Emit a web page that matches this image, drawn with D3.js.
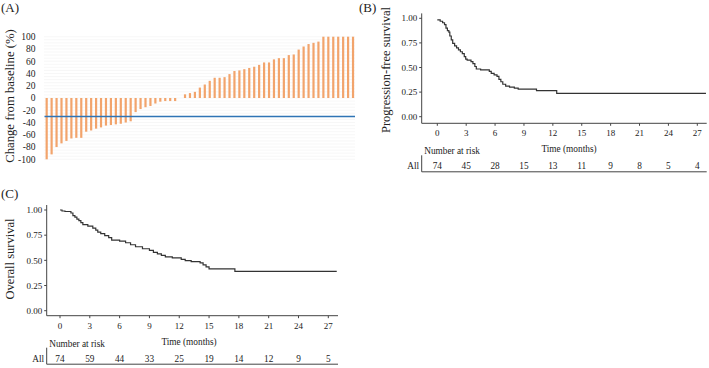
<!DOCTYPE html>
<html><head><meta charset="utf-8">
<script src="https://cdn.jsdelivr.net/npm/d3@7"></script>
<style>
body{margin:0;background:#fff;}
svg text{font-family:"Liberation Serif","Times New Roman",serif;fill:#222;}
</style></head>
<body><svg id="c" width="709" height="368"></svg>
<script>
// ---- Panel A: waterfall (change from baseline, %) ----
const waterfallValues = [
  -100,-92,-80,-74,-70,-66,-65,-65,-55,-53,-50,-48,-45,-44,-43,-42,-40,-38,
  -23,-18,-15,-13,-9,-6,-5,-5,-5,
  0,
  6,8,10,17,22,28,33,33,34,39,44,45,47,49,51,54,58,58,63,65,65,70,71,79,84,88,90,92,
  100,100,100,100,100,100,100
];
const waterfallTicks = [100,80,60,40,20,0,-20,-40,-60,-80,-100];
const thresholdValue = -30;

// ---- Panel B: progression-free survival (KM steps) ----
const pfsTime = [0,0.3,0.55,0.75,0.9,1.05,1.2,1.3,1.45,1.6,1.8,2.0,2.2,2.4,2.6,2.8,2.95,3.1,3.5,3.7,3.9,4.05,4.5,5.4,5.6,5.9,6.2,6.4,6.6,6.8,7.1,7.5,8.0,8.4,10.3,12.4,27.9];
const pfsSurv = [0.983,0.97,0.955,0.935,0.90,0.875,0.86,0.82,0.78,0.745,0.72,0.70,0.68,0.66,0.64,0.61,0.585,0.575,0.56,0.54,0.51,0.485,0.475,0.46,0.44,0.425,0.41,0.38,0.355,0.33,0.31,0.30,0.29,0.28,0.265,0.237,0.237];
const pfsRisk = [74,45,28,15,13,11,9,8,5,4];

// ---- Panel C: overall survival (KM steps) ----
const osTime = [0,0.2,0.5,1.1,1.3,1.5,1.7,1.9,2.1,2.3,2.8,3.3,3.6,3.8,4.1,4.5,4.9,5.2,6.0,6.6,7.1,7.6,8.3,9.0,9.4,9.8,10.2,10.6,11.3,12.2,12.6,13.2,14.1,14.4,14.7,15.0,17.6,27.85];
const osSurv = [1.0,0.99,0.985,0.97,0.945,0.93,0.91,0.895,0.875,0.855,0.84,0.82,0.80,0.78,0.765,0.745,0.725,0.70,0.69,0.675,0.655,0.635,0.615,0.60,0.58,0.565,0.55,0.535,0.525,0.51,0.497,0.487,0.475,0.455,0.435,0.415,0.39,0.39];
const osRisk = [74,59,44,33,25,19,14,12,9,5];

const monthTicks = [0,3,6,9,12,15,18,21,24,27];
const survTicks = [0,0.25,0.5,0.75,1];

const svg = d3.select("#c");

// ================= Panel A =================
(function(){
  const g = svg.append("g");
  const x = d3.scaleBand().domain(d3.range(waterfallValues.length)).range([44.2,355.5]);
  const y = d3.scaleLinear().domain([-100,100]).range([159.3,36.7]);
  // faint gridlines
  g.selectAll("line.grid").data(d3.range(-100,101,5)).join("line")
    .attr("x1",44).attr("x2",355).attr("y1",d=>y(d)).attr("y2",d=>y(d))
    .attr("stroke","#f3f3f3").attr("stroke-width",0.7);
  // bars
  g.selectAll("rect.bar").data(waterfallValues).join("rect")
    .attr("x",(d,i)=>x(i)+x.bandwidth()/2-1.1).attr("width",2.2)
    .attr("y",d=>y(Math.max(0,d))).attr("height",d=>Math.abs(y(d)-y(0)))
    .attr("fill","#f2a46c");
  // threshold line
  g.append("line").attr("x1",44.5).attr("x2",355).attr("y1",y(thresholdValue)).attr("y2",y(thresholdValue))
    .attr("stroke","#2f74b5").attr("stroke-width",1.5);
  // y ticks
  g.selectAll("text.yt").data(waterfallTicks).join("text")
    .attr("x",35.5).attr("y",d=>y(d)).attr("dy","0.35em").attr("text-anchor","end")
    .attr("font-size","9.5px").text(d=>d);
  g.append("text").attr("transform","translate(14,96) rotate(-90)").attr("text-anchor","middle")
    .attr("font-size","12.7px").text("Change from baseline (%)");
  svg.append("text").attr("x",1).attr("y",11.5).attr("font-size","13px").text("(A)");
})();

// ================= KM panel builder =================
function kmPanel(o){
  const g = svg.append("g");
  const x = d3.scaleLinear().domain([0,27]).range([o.x0,o.x27]);
  const y = d3.scaleLinear().domain([0,1]).range([o.y0,o.y1]);
  // axes lines
  g.append("line").attr("x1",o.axL).attr("x2",o.axL).attr("y1",o.axTop).attr("y2",o.axB)
    .attr("stroke","#444").attr("stroke-width",1);
  g.append("line").attr("x1",o.axL).attr("x2",o.axR).attr("y1",o.axB).attr("y2",o.axB)
    .attr("stroke","#444").attr("stroke-width",1);
  // y ticks
  g.selectAll("line.yt").data(survTicks).join("line")
    .attr("x1",o.axL-2.5).attr("x2",o.axL).attr("y1",d=>y(d)).attr("y2",d=>y(d))
    .attr("stroke","#444");
  g.selectAll("text.yt").data(survTicks).join("text")
    .attr("x",o.axL-4.5).attr("y",d=>y(d)).attr("dy","0.35em").attr("text-anchor","end")
    .attr("font-size","9px").text(d=>d3.format(".2f")(d));
  // x ticks
  g.selectAll("line.xt").data(monthTicks).join("line")
    .attr("x1",d=>x(d)).attr("x2",d=>x(d)).attr("y1",o.axB).attr("y2",o.axB+2.5)
    .attr("stroke","#444");
  g.selectAll("text.xt").data(monthTicks).join("text")
    .attr("x",d=>x(d)).attr("y",o.axB+13).attr("text-anchor","middle")
    .attr("font-size","9px").text(d=>d);
  // curve
  const pts = o.time.map((t,i)=>[t,o.surv[i]]);
  g.append("path").datum(pts)
    .attr("d",d3.line().x(d=>x(d[0])).y(d=>y(d[1])).curve(d3.curveStepAfter))
    .attr("fill","none").attr("stroke","#333").attr("stroke-width",1.2);
  // titles
  g.append("text").attr("transform",`translate(${o.ytX},${o.ytY}) rotate(-90)`).attr("text-anchor","middle")
    .attr("font-size","12.5px").text(o.ytitle);
  g.append("text").attr("x",o.xtX).attr("y",o.axB+29).attr("text-anchor","middle")
    .attr("font-size","9.3px").text("Time (months)");
  // risk table
  g.append("text").attr("x",o.axL+2.5).attr("y",o.axB+31).attr("font-size","9.3px").text("Number at risk");
  g.append("line").attr("x1",o.axL).attr("x2",o.axL).attr("y1",o.axB+32).attr("y2",o.axB+48.5)
    .attr("stroke","#444");
  g.append("line").attr("x1",o.axL).attr("x2",o.axR).attr("y1",o.axB+48.5).attr("y2",o.axB+48.5)
    .attr("stroke","#444");
  g.append("text").attr("x",o.axL-2.5).attr("y",o.axB+46).attr("text-anchor","end")
    .attr("font-size","9.3px").text("All");
  g.selectAll("text.risk").data(o.risk).join("text")
    .attr("x",(d,i)=>x(monthTicks[i])).attr("y",o.axB+46).attr("text-anchor","middle")
    .attr("font-size","9.3px").text(d=>d);
  svg.append("text").attr("x",o.labX).attr("y",o.labY).attr("font-size","13px").text(o.label);
}

kmPanel({time:pfsTime,surv:pfsSurv,risk:pfsRisk,x0:437.3,x27:697.3,y0:116.7,y1:18.3,
  axL:421.7,axR:706.7,axTop:13.4,axB:123.3,ytitle:"Progression-free survival",ytX:390,ytY:70,
  xtX:569,label:"(B)",labX:359,labY:11.5});
kmPanel({time:osTime,surv:osSurv,risk:osRisk,x0:60,x27:328.3,y0:310.7,y1:210,
  axL:46.7,axR:338,axTop:205,axB:315.7,ytitle:"Overall survival",ytX:14,ytY:259,
  xtX:189,label:"(C)",labX:1,labY:198});
</script></body></html>
